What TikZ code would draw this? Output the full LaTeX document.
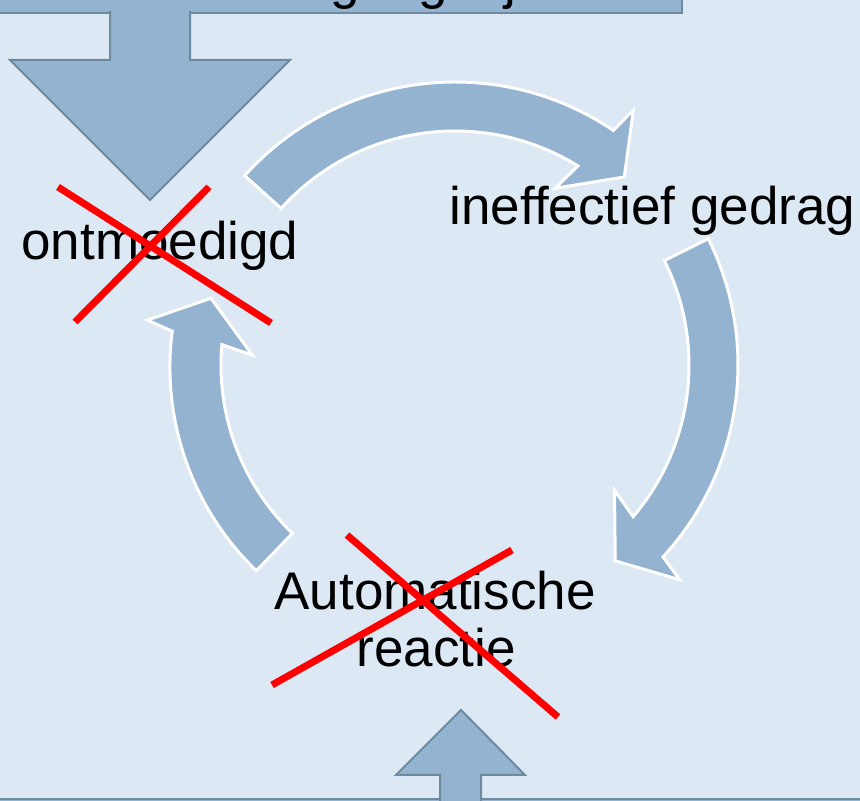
\documentclass[tikz,border=0pt]{standalone}
\usepackage{fontspec}
\setmainfont[Ligatures={NoCommon}]{Liberation Sans}
\definecolor{bgblue}{HTML}{DCE8F4}
\definecolor{arrowblue}{HTML}{94B3D1}
\definecolor{borderblue}{HTML}{6E8AA0}
\begin{document}
\begin{tikzpicture}[x=1pt,y=1pt,
  cyc/.style={fill=arrowblue, draw=white, line width=3pt, line join=miter},
  blockarrow/.style={fill=arrowblue, draw=borderblue, line width=2pt, line join=miter},
  lbl/.style={font=\fontsize{53}{57}\selectfont, inner sep=0pt, anchor=base, text=black},
  cross/.style={draw=red, line width=7pt}]
\useasboundingbox (0,0) rectangle (860,801);
\clip (0,0) rectangle (860,801);
\fill[bgblue] (0,0) rectangle (860,801);
\coordinate (C) at (455,436);

% circular arrows
\path[cyc] ([shift={(138:283)}]C) arc[start angle=138, end angle=56, radius=283]
  -- ([shift={(55:311)}]C) -- ([shift={(48:253)}]C) -- ([shift={(60.5:203)}]C)
  -- ([shift={(58.3:234)}]C) arc[start angle=58.3, end angle=138, radius=234] -- cycle;
\path[cyc] ([shift={(26.5:283)}]C) arc[start angle=26.5, end angle=-42.7, radius=283]
  -- ([shift={(-43.7:311)}]C) -- ([shift={(-50.7:253)}]C) -- ([shift={(-38.2:203)}]C)
  -- ([shift={(-40.4:234)}]C) arc[start angle=-40.4, end angle=26.5, radius=234] -- cycle;
\path[cyc] ([shift={(226:286)}]C) arc[start angle=226, end angle=172.7, radius=283]
  -- ([shift={(171.7:311)}]C) -- ([shift={(164.7:253)}]C) -- ([shift={(177.2:203)}]C)
  -- ([shift={(175:234)}]C) arc[start angle=175, end angle=226, radius=234] -- cycle;

% top box with down arrow
\path[blockarrow] (-10,788) rectangle (682,840);
\node[lbl, anchor=base west] (toptext) at (286,802) {Ingang bij};
\path[blockarrow] (110,790) -- (110,741) -- (10,741) -- (150,601) -- (290,741) -- (190,741) -- (190,790);

% bottom box with up arrow
\path[blockarrow] (-10,-20) rectangle (870,2);
\path[blockarrow] (440,0) -- (440,26) -- (396,26) -- (461,91) -- (525,26) -- (481,26) -- (481,0);

% labels
\node[lbl] (ontm) at (160,541) {ontmoedigd};
\node[lbl] (ineff) at (652.5,576) {ineffectief gedrag};
\node[lbl] (auto) at (435,191) {Automatische};
\node[lbl] (reac) at (436,134) {reactie};

% red crosses
\coordinate (x1a) at (58,614);  \coordinate (x1b) at (271,478);
\coordinate (x1c) at (209,614); \coordinate (x1d) at (75,479);
\coordinate (x2a) at (347,266); \coordinate (x2b) at (558,84);
\coordinate (x2c) at (512,251); \coordinate (x2d) at (272,116);
\draw[cross] (x1a) -- (x1b);
\draw[cross] (x1c) -- (x1d);
\draw[cross] (x2a) -- (x2b);
\draw[cross] (x2c) -- (x2d);
\end{tikzpicture}
\end{document}
